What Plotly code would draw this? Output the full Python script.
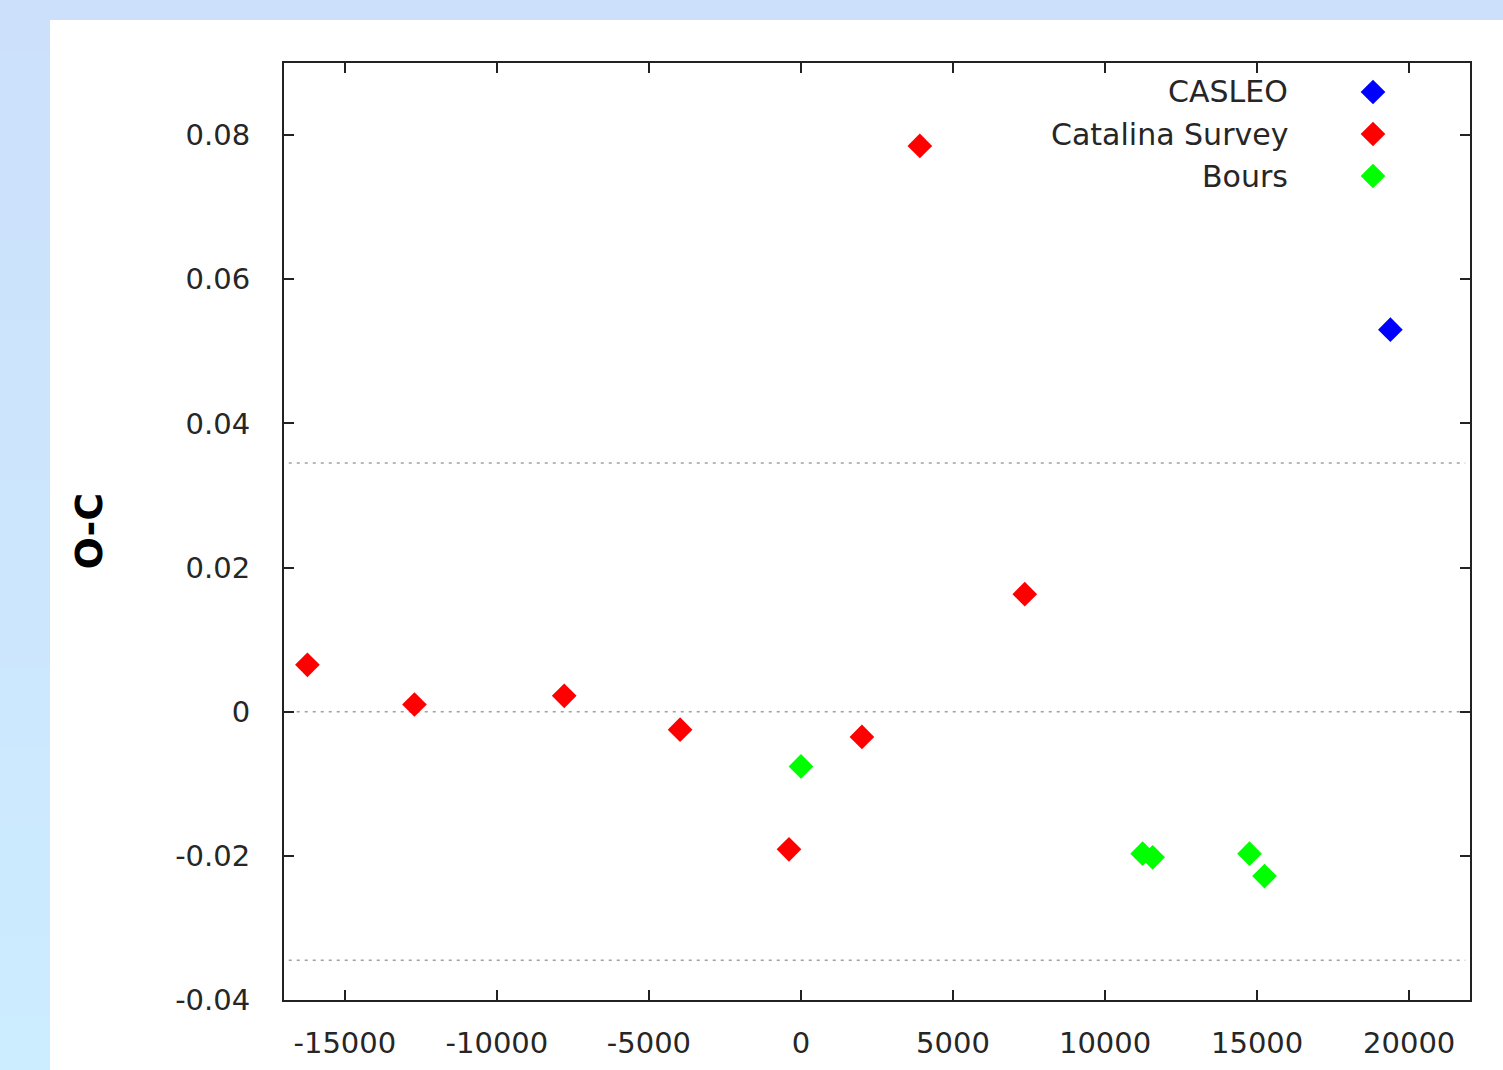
import plotly.graph_objects as go

# O-C residuals per data source (epoch E, O-C in days)
casleo_E = [19382]
casleo_oc = [0.0530]

catalina_E = [-16230, -12710, -7785, -3975, -394, 2004, 3909, 7359]
catalina_oc = [0.0065, 0.0010, 0.0022, -0.0025, -0.0191, -0.0035, 0.0785, 0.0163]

bours_E = [0, 11235, 11564, 14750, 15243]
bours_oc = [-0.0076, -0.0197, -0.0202, -0.0197, -0.0228]

series_names = ["CASLEO", "Catalina Survey", "Bours"]
series_colors = ["#0000ff", "#ff0000", "#00ff00"]

# reference levels: zero and the +/- scatter band
ref_levels = [0.0345, 0.0, -0.0345]

x_range = [-17000, 22000]
y_range = [-0.04, 0.09]
x_ticks = [-15000, -10000, -5000, 0, 5000, 10000, 15000, 20000]
x_tick_text = ["-15000", "-10000", "-5000", "0", "5000", "10000", "15000", "20000"]
y_ticks = [-0.04, -0.02, 0, 0.02, 0.04, 0.06, 0.08]
y_tick_text = ["-0.04", "-0.02", "0", "0.02", "0.04", "0.06", "0.08"]

W, H = 1503, 1070
ML, MR, MT, MB = 284, 33, 63, 70
PW, PH = W - ML - MR, H - MT - MB


def px_x(px):
    return (px - ML) / PW


def px_y(py):
    return (H - MB - py) / PH


FONT = "DejaVu Sans"
TXT = "#262626"
MSIZE = 19

fig = go.Figure()

data_sets = [(casleo_E, casleo_oc), (catalina_E, catalina_oc), (bours_E, bours_oc)]
for (xs, ys), name, col in zip(data_sets, series_names, series_colors):
    fig.add_trace(go.Scatter(
        x=xs, y=ys, mode="markers", name=name, showlegend=False,
        marker=dict(symbol="diamond", size=MSIZE, color=col, line=dict(width=0)),
        cliponaxis=False,
    ))

# key: labels right-aligned, symbols to the right
key_y = [px_y(92), px_y(134), px_y(176)]
key_x = px_x(1373)
fig.add_trace(go.Scatter(
    x=[key_x] * 3, y=key_y, mode="markers", showlegend=False, hoverinfo="skip",
    xaxis="x2", yaxis="y2",
    marker=dict(symbol="diamond", size=MSIZE, color=series_colors, line=dict(width=0)),
))
for name, ky in zip(series_names, key_y):
    fig.add_annotation(
        x=px_x(1290), y=ky, xref="paper", yref="paper", text=name, showarrow=False,
        xanchor="right", yanchor="middle", font=dict(family=FONT, size=30, color=TXT),
    )

shapes = []
# page background: light blue gradient behind a white panel
n_strips = 40
top = (0xcc, 0xe0, 0xfb)
bot = (0xcc, 0xec, 0xff)
for i in range(n_strips):
    t = i / (n_strips - 1)
    c = tuple(round(top[k] + (bot[k] - top[k]) * t) for k in range(3))
    y_top = H * i / n_strips
    y_bot = H * (i + 1) / n_strips
    shapes.append(dict(
        type="rect", xref="paper", yref="paper", layer="below",
        x0=px_x(-5), x1=px_x(W + 5), y0=px_y(y_top - 1), y1=px_y(y_bot + 1),
        fillcolor="rgb(%d,%d,%d)" % c, line=dict(width=0),
    ))
shapes.append(dict(
    type="rect", xref="paper", yref="paper", layer="below",
    x0=px_x(50), x1=px_x(W + 10), y0=px_y(20), y1=px_y(H + 10),
    fillcolor="white", line=dict(width=0),
))
for lv in ref_levels:
    shapes.append(dict(
        type="line", xref="paper", yref="y", x0=0.004, x1=0.996, y0=lv, y1=lv,
        line=dict(color="#a0a0a0", width=1.5, dash="3px,5px"), layer="below",
    ))

fig.add_annotation(
    x=px_x(88), y=0.5, xref="paper", yref="paper", text="<b>O-C</b>", showarrow=False,
    textangle=-90, xanchor="center", yanchor="middle",
    font=dict(family=FONT, size=38, color="#000000"),
)

axis_common = dict(
    showline=True, linecolor="#222222", linewidth=2, mirror="ticks",
    ticks="inside", ticklen=10, tickwidth=2, tickcolor="#222222",
    showgrid=False, zeroline=False, automargin=False,
    tickfont=dict(family=FONT, size=29, color=TXT),
)

fig.update_layout(
    width=W, height=H,
    margin=dict(l=ML, r=MR, t=MT, b=MB, pad=0, autoexpand=False),
    paper_bgcolor="#cce4fc", plot_bgcolor="white",
    shapes=shapes,
    xaxis=dict(range=x_range, tickvals=x_ticks, ticktext=x_tick_text,
               ticklabelstandoff=16, **axis_common),
    yaxis=dict(range=y_range, tickvals=y_ticks, ticktext=y_tick_text,
               ticklabelstandoff=26, **axis_common),
    xaxis2=dict(range=[0, 1], overlaying="x", visible=False),
    yaxis2=dict(range=[0, 1], overlaying="y", visible=False),
    showlegend=False,
)

fig.write_html("out.html")
